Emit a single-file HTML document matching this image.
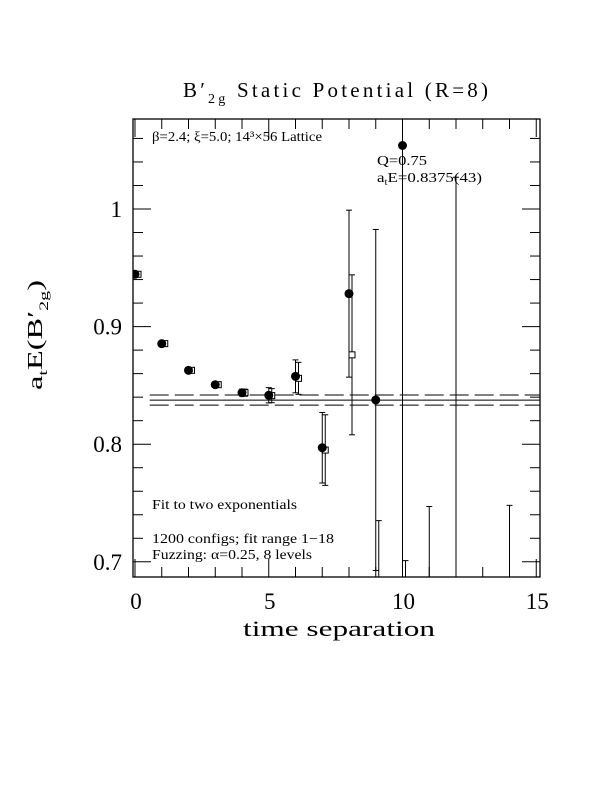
<!DOCTYPE html>
<html><head><meta charset="utf-8"><style>
html,body{margin:0;padding:0;background:#fff;width:612px;height:792px;overflow:hidden}
svg{display:block}
svg text{font-family:"Liberation Serif","DejaVu Serif",serif;fill:#000}
</style></head><body>
<svg id="chart" width="612" height="792" xmlns="http://www.w3.org/2000/svg">
<text x="183" y="97" font-size="21" textLength="305" lengthAdjust="spacing">B′<tspan font-size="14" dy="6">2g</tspan><tspan dy="-6"> Static Potential (R=8)</tspan></text>
<g id="plot"></g>
<text x="243" y="636" font-size="22" textLength="192" lengthAdjust="spacingAndGlyphs">time separation</text>
<text transform="translate(42,390) rotate(-90)" font-size="21" textLength="110" lengthAdjust="spacingAndGlyphs">a<tspan font-size="13" dy="5">t</tspan><tspan dy="-5">E(B′</tspan><tspan font-size="13" dy="6">2g</tspan><tspan dy="-6">)</tspan></text>
<text x="152" y="141" font-size="14" textLength="170" lengthAdjust="spacingAndGlyphs">β=2.4; ξ=5.0; 14³×56 Lattice</text>
<text x="377" y="165" font-size="14" textLength="50" lengthAdjust="spacingAndGlyphs">Q=0.75</text>
<text x="377" y="182" font-size="14" textLength="105" lengthAdjust="spacingAndGlyphs">a<tspan font-size="9" dy="3">t</tspan><tspan dy="-3">E=0.8375(43)</tspan></text>
<text x="152" y="509" font-size="14" textLength="145" lengthAdjust="spacingAndGlyphs">Fit to two exponentials</text>
<text x="152" y="543" font-size="14" textLength="182" lengthAdjust="spacingAndGlyphs">1200 configs; fit range 1−18</text>
<text x="152" y="559" font-size="14" textLength="160" lengthAdjust="spacingAndGlyphs">Fuzzing: α=0.25, 8 levels</text>
</svg>
<script>
const tCirc=[0,1,2,3,4,5,6,7,8,9,10,11,12,14];
const vCirc=[0.9445,0.8855,0.8628,0.8506,0.8438,0.8416,0.8577,0.797,0.928,0.8376,1.054,0.55,0.6,0.55];
const eCirc=[0.002,0.002,0.002,0.002,0.003,0.0065,0.014,0.03,0.071,0.145,0.5,0.197,0.427,0.198];
const tSq=[0,1,2,3,4,5,6,7,8,9,10];
const vSq=[0.9445,0.8855,0.8628,0.8506,0.8438,0.8413,0.856,0.795,0.876,0.66,0.6];
const eSq=[0.002,0.002,0.002,0.002,0.003,0.006,0.0136,0.03,0.068,0.075,0.101];
const fitVal=0.8375, fitErr=0.0043, fitStart=0.55, fitEnd=15.15;
const xTicks=[0,5,10,15];
const yTicks=[0.7,0.8,0.9,1.0];
const yTickLabels=["0.7","0.8","0.9","1"];
const X0=133,X1=540,Y0=119,Y1=577;
const xs=t=>135+t*26.75;
const ys=v=>209+(1-v)*1176;
const g=document.getElementById('plot');
const NS='http://www.w3.org/2000/svg';
function mk(tag,a){const e=document.createElementNS(NS,tag);for(const k in a)e.setAttribute(k,a[k]);g.appendChild(e);return e;}
const defs=document.createElementNS(NS,'defs');defs.innerHTML='<clipPath id="cp"><rect x="133" y="119" width="407" height="458"/></clipPath>';document.getElementById('chart').appendChild(defs);
let fr=mk('rect',{x:X0,y:Y0,width:X1-X0,height:Y1-Y0,fill:'none',stroke:'#000','stroke-width':1.3});


for(let t=0;t<=15;t++){const L=t%5==0?18:10;
 mk('line',{x1:xs(t),x2:xs(t),y1:Y1,y2:Y1-L,stroke:'#000'});
 mk('line',{x1:xs(t),x2:xs(t),y1:Y0,y2:Y0+L,stroke:'#000'});}
for(let i=0;i<=19;i++){const v=0.7-0.02+i*0.02;const y=ys(v);if(y<Y0||y>Y1)continue;
 const L=Math.abs(v*10-Math.round(v*10))<1e-6?18:10;
 mk('line',{x1:X0,x2:X0+L,y1:y,y2:y,stroke:'#000'});
 mk('line',{x1:X1,x2:X1-L,y1:y,y2:y,stroke:'#000'});}
xTicks.forEach(t=>{const e=mk('text',{x:xs(t)+1,y:609,'font-size':23,'text-anchor':'middle'});e.textContent=t;
 
 });
yTicks.forEach((v,i)=>{const e=mk('text',{x:122,y:ys(v)+8,'font-size':23,'text-anchor':'end'});e.textContent=yTickLabels[i];
 
 });
const cg=document.createElementNS(NS,'g');cg.setAttribute('clip-path','url(#cp)');g.appendChild(cg);
function mk2(tag,a){const e=mk(tag,a);cg.appendChild(e);return e;}
let fl=mk2('line',{x1:xs(fitStart),x2:xs(fitEnd),y1:ys(fitVal),y2:ys(fitVal),stroke:'#000'});


[fitVal+fitErr,fitVal-fitErr].forEach(v=>{const e=mk2('line',{x1:xs(fitStart),x2:xs(fitEnd),y1:ys(v),y2:ys(v),stroke:'#000','stroke-dasharray':'19,6'});
 
 });
function errbar(x,v,e){mk2('line',{x1:x,x2:x,y1:ys(v+e),y2:ys(v-e),stroke:'#000'});
 mk2('line',{x1:x-3,x2:x+3,y1:ys(v+e),y2:ys(v+e),stroke:'#000'});
 mk2('line',{x1:x-3,x2:x+3,y1:ys(v-e),y2:ys(v-e),stroke:'#000'});}
tSq.forEach((t,i)=>{const x=xs(t)+3;errbar(x,vSq[i],eSq[i]);
 const r=mk2('rect',{x:x-3,y:ys(vSq[i])-3,width:6,height:6,fill:'#fff',stroke:'#000'});
 
 });
tCirc.forEach((t,i)=>{const x=xs(t);errbar(x,vCirc[i],eCirc[i]);
 const c=mk2('circle',{cx:x,cy:ys(vCirc[i]),r:4.5,fill:'#000'});
 
 });
</script>
</body></html>
